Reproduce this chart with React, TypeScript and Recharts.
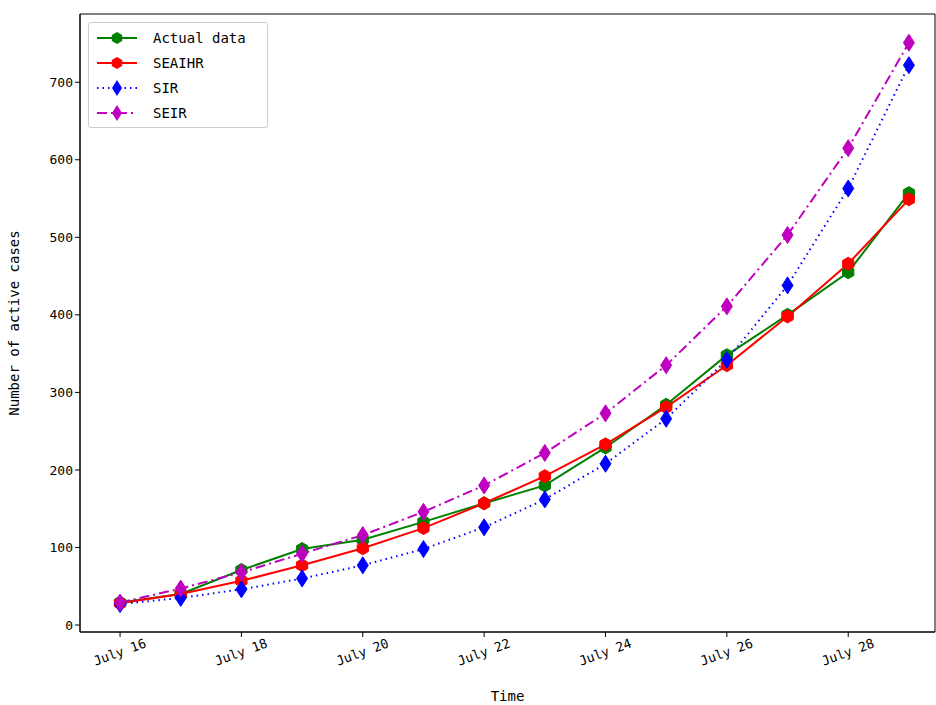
import {
  LineChart,
  Line,
  XAxis,
  YAxis,
  ReferenceArea,
} from "recharts";

const days = [0, 1, 2, 3, 4, 5, 6, 7, 8, 9, 10, 11, 12, 13];
const dayLabels = ["July 16", "July 17", "July 18", "July 19", "July 20", "July 21", "July 22", "July 23", "July 24", "July 25", "July 26", "July 27", "July 28", "July 29"];
const actual = [29, 40, 71, 98, 110, 133, 157, 180, 229, 284, 348, 400, 455, 557];
const seaihr = [28, 40, 57, 77, 99, 125, 157, 192, 233, 281, 335, 398, 466, 549];
const sir = [27, 35, 46, 60, 77, 98, 126, 162, 208, 266, 342, 438, 563, 722];
const seir = [29, 47, 68, 92, 116, 146, 180, 222, 273, 335, 411, 503, 615, 751];
const xTicks = [0, 2, 4, 6, 8, 10, 12];
const yTicks = [0, 100, 200, 300, 400, 500, 600, 700];

const data = days.map((d, i) => ({
  day: d,
  actual: actual[i],
  seaihr: seaihr[i],
  sir: sir[i],
  seir: seir[i],
}));

const FONT = "'DejaVu Sans Mono', monospace";
const X_DOMAIN: [number, number] = [-0.66, 13.43];
const Y_DOMAIN: [number, number] = [-9, 788];

const hexagon = (cx: number, cy: number, r: number) => {
  const pts = [];
  for (let k = 0; k < 6; k++) {
    const a = (Math.PI / 3) * k - Math.PI / 2;
    pts.push(`${cx + r * Math.cos(a)},${cy + r * Math.sin(a)}`);
  }
  return pts.join(" ");
};

const diamond = (cx: number, cy: number, w: number, h: number) =>
  `${cx},${cy - h} ${cx + w},${cy} ${cx},${cy + h} ${cx - w},${cy}`;

const HexDot = (color: string) => (props: any) => {
  const { cx, cy, index } = props;
  if (cx == null || cy == null) return <g key={index} />;
  return <polygon key={index} points={hexagon(cx, cy, 6.5)} fill={color} stroke={color} strokeWidth={1} />;
};

const DiamondDot = (color: string) => (props: any) => {
  const { cx, cy, index } = props;
  if (cx == null || cy == null) return <g key={index} />;
  return <polygon key={index} points={diamond(cx, cy, 5.5, 8.5)} fill={color} stroke={color} strokeWidth={1} />;
};

const XTick = (props: any) => {
  const { x, y, payload } = props;
  return (
    <text
      x={0}
      y={0}
      transform={`translate(${x},${y + 14}) rotate(-20)`}
      textAnchor="middle"
      dominantBaseline="middle"
      fontFamily={FONT}
      fontSize={13}
      fill="#000"
    >
      {dayLabels[payload.value]}
    </text>
  );
};

const legendItems = [
  { name: "Actual data", color: "green", dash: undefined, marker: "hex" },
  { name: "SEAIHR", color: "red", dash: undefined, marker: "hex" },
  { name: "SIR", color: "blue", dash: "1.5 4", marker: "diamond" },
  { name: "SEIR", color: "#bf00bf", dash: "10 4 2 4", marker: "diamond" },
];

const LegendBox = () => (
  <div
    style={{
      position: "absolute",
      left: 88,
      top: 22,
      width: 180,
      height: 106,
      border: "1px solid #ccc",
      borderRadius: 3,
      background: "rgba(255,255,255,0.8)",
      padding: "2px 0 0 6px",
      boxSizing: "border-box",
    }}
  >
    {legendItems.map((it) => (
      <div key={it.name} style={{ display: "flex", alignItems: "center", height: 25, whiteSpace: "nowrap" }}>
        <svg width={44} height={20} style={{ flex: "none" }}>
          <line x1={2} y1={10} x2={42} y2={10} stroke={it.color} strokeWidth={2} strokeDasharray={it.dash} />
          {it.marker === "hex" ? (
            <polygon points={hexagon(22, 10, 6)} fill={it.color} />
          ) : (
            <polygon points={diamond(22, 10, 5, 8)} fill={it.color} />
          )}
        </svg>
        <span style={{ fontFamily: FONT, fontSize: 14, marginLeft: 14, color: "#000" }}>{it.name}</span>
      </div>
    ))}
  </div>
);

const App = () => {
  return (
    <div style={{ position: "absolute", left: 0, top: 0, width: 936, height: 705, background: "#fff" }}>
      <LineChart width={936} height={705} data={data} margin={{ top: 14, right: 1, left: 0, bottom: 0 }}>
        <XAxis
          dataKey="day"
          type="number"
          domain={X_DOMAIN}
          ticks={xTicks}
          tick={<XTick />}
          tickSize={5}
          height={73}
          stroke="#000"
          allowDataOverflow
          label={{ value: "Time", position: "insideBottom", offset: 4, fontFamily: FONT, fontSize: 14, fill: "#000" }}
        />
        <YAxis
          type="number"
          domain={Y_DOMAIN}
          ticks={yTicks}
          tickSize={5}
          width={80}
          stroke="#000"
          allowDataOverflow
          tick={{ fontFamily: FONT, fontSize: 13, fill: "#000" }}
          label={{
            value: "Number of active cases",
            angle: -90,
            position: "insideLeft",
            offset: 14,
            style: { textAnchor: "middle", fontFamily: FONT, fontSize: 14, fill: "#000" },
          }}
        />
        <ReferenceArea x1={X_DOMAIN[0]} x2={X_DOMAIN[1]} y1={Y_DOMAIN[0]} y2={Y_DOMAIN[1]} fill="none" stroke="#000" strokeWidth={1} />
        <Line dataKey="actual" name="Actual data" stroke="green" strokeWidth={2} dot={HexDot("green")} isAnimationActive={false} />
        <Line dataKey="seaihr" name="SEAIHR" stroke="red" strokeWidth={2} dot={HexDot("red")} isAnimationActive={false} />
        <Line dataKey="sir" name="SIR" stroke="blue" strokeWidth={2} strokeDasharray="1.5 4" dot={DiamondDot("blue")} isAnimationActive={false} />
        <Line dataKey="seir" name="SEIR" stroke="#bf00bf" strokeWidth={2} strokeDasharray="10 4 2 4" dot={DiamondDot("#bf00bf")} isAnimationActive={false} />
      </LineChart>
      <LegendBox />
    </div>
  );
};

export default App;
